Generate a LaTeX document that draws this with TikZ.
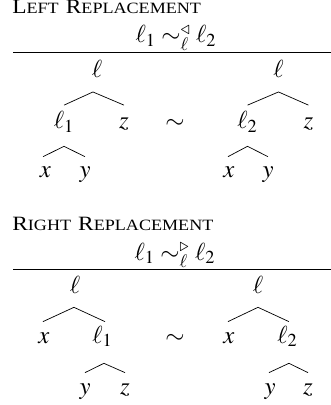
\documentclass[tikz,border=0pt]{standalone}
\usepackage{amsmath}
\usepackage{mathptmx}
\usepackage[no-math]{fontspec}
\setmainfont{Liberation Serif}
\usetikzlibrary{positioning}
\newcommand{\fakesc}[2]{{\fontsize{11.5}{14}\selectfont #1}{\fontsize{8.9}{11}\selectfont #2}}

\begin{document}
\fontsize{14}{17}\selectfont
\begin{tikzpicture}[x=0.566pt,y=-0.566pt,
    lbl/.style={inner sep=0pt,anchor=base,text height=7pt,text depth=2pt},
    ttl/.style={inner sep=0pt,anchor=base west}]
  \useasboundingbox (0,0) rectangle (331,405);
  % left replacement
  \node[ttl] (tA) at (12,14) {\scalebox{1.15}[1]{\fakesc{L}{EFT} \fakesc{R}{EPLACEMENT}}};
  \node[inner sep=0pt,anchor=base] (fA) at (176,43) {$\ell_1 \sim^{\triangleleft}_{\ell} \ell_2$};
  \draw (13,52) -- (331,52);
  \node[lbl] (lA) at (97,78) {$\ell$};
  \node[lbl] (lA1) at (64,129) {$\ell_1$};
  \node[lbl] (zA) at (124,129) {$z$};
  \node[lbl] (xA) at (45.5,177) {$x$};
  \node[lbl] (yA) at (85,177) {$y$};
  \node[lbl] (simA) at (175,129) {$\sim$};
  \node[lbl] (lB) at (278.5,78) {$\ell$};
  \node[lbl] (lB2) at (247.5,129) {$\ell_2$};
  \node[lbl] (zB) at (308.5,129) {$z$};
  \node[lbl] (xB) at (229,177) {$x$};
  \node[lbl] (yB) at (268,177) {$y$};
  \draw ([yshift=6.3pt]lA1.north) -- ([shift={(-2.3pt,-5.7pt)}]lA.south) -- ([yshift=6.3pt]zA.north);
  \draw ([shift={(-1.4pt,4.3pt)}]xA.north) -- ([yshift=-7.6pt]lA1.south) -- ([yshift=4.3pt]yA.north);
  \draw ([yshift=6.3pt]lB2.north) -- ([yshift=-5.7pt]lB.south) -- ([yshift=6.3pt]zB.north);
  \draw ([shift={(-0.6pt,4.3pt)}]xB.north) -- ([yshift=-7.6pt]lB2.south) -- ([yshift=4.3pt]yB.north);
  % right replacement
  \node[ttl] (tB) at (12,230) {\scalebox{1.15}[1]{\fakesc{R}{IGHT} \fakesc{R}{EPLACEMENT}}};
  \node[inner sep=0pt,anchor=base] (fB) at (175,260) {$\ell_1 \sim^{\triangleright}_{\ell} \ell_2$};
  \draw (13,269) -- (331,269);
  \node[lbl] (lC) at (75,293) {$\ell$};
  \node[lbl] (xC) at (44,343) {$x$};
  \node[lbl] (lC1) at (102.5,343) {$\ell_1$};
  \node[lbl] (yC) at (85,394) {$y$};
  \node[lbl] (zC) at (125,394) {$z$};
  \node[lbl] (simB) at (175,343) {$\sim$};
  \node[lbl] (lD) at (258,293) {$\ell$};
  \node[lbl] (xD) at (229,343) {$x$};
  \node[lbl] (lD2) at (287.5,343) {$\ell_2$};
  \node[lbl] (yD) at (270,394) {$y$};
  \node[lbl] (zD) at (308,394) {$z$};
  \draw ([shift={(-0.6pt,4.9pt)}]xC.north) -- ([shift={(-0.6pt,-5.9pt)}]lC.south) -- ([shift={(1.4pt,4.9pt)}]lC1.north);
  \draw ([yshift=4.9pt]yC.north) -- ([shift={(0.8pt,-9.3pt)}]lC1.south) -- ([yshift=4.9pt]zC.north);
  \draw ([shift={(-0.6pt,4.9pt)}]xD.north) -- ([yshift=-5.9pt]lD.south) -- ([shift={(0.8pt,4.9pt)}]lD2.north);
  \draw ([shift={(-0.6pt,4.9pt)}]yD.north) -- ([shift={(0.8pt,-9.3pt)}]lD2.south) -- ([yshift=4.9pt]zD.north);
\end{tikzpicture}
\end{document}
